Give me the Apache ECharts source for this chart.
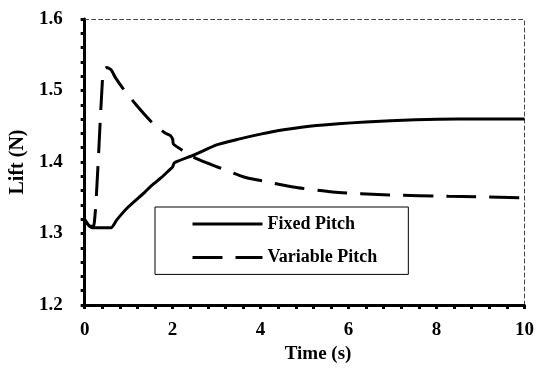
<!DOCTYPE html>
<html>
<head>
<meta charset="utf-8">
<script src="https://cdn.jsdelivr.net/npm/echarts@6/dist/echarts.min.js"></script>
<style>html,body{margin:0;padding:0;background:#fff;}#c{width:537px;height:369px;}</style>
</head>
<body>
<div id="c"></div>
<script>
var seriesNames = ['Fixed Pitch', 'Variable Pitch'];
var fixedTime = [0, 0.17, 0.6, 0.73, 0.99, 1.37, 1.52, 1.74, 1.93, 2.0, 2.04, 2.49, 3.0, 3.5, 4.0, 4.52, 5.27, 6.39, 7.52, 8.5, 10];
var fixedLift = [1.319, 1.308, 1.308, 1.319, 1.337, 1.358, 1.367, 1.378, 1.389, 1.393, 1.399, 1.410, 1.424, 1.432, 1.439, 1.445, 1.451, 1.456, 1.459, 1.460, 1.460];
var variableTime = [0, 0.12, 0.2, 0.42, 0.5, 0.6, 0.7, 0.87, 1.17, 1.52, 1.82, 1.95, 2.0, 2.02, 2.23, 2.53, 3.02, 3.62, 4.0, 4.74, 5.64, 6.92, 8.27, 10];
var variableLift = [1.32, 1.31, 1.31, 1.528, 1.532, 1.529, 1.518, 1.503, 1.48, 1.456, 1.441, 1.437, 1.432, 1.425, 1.416, 1.405, 1.393, 1.379, 1.374, 1.365, 1.358, 1.354, 1.352, 1.350];
var xTitle = 'Time (s)';
var yTitle = 'Lift (N)';

function pairs(xs, ys) { return xs.map(function (x, i) { return [x, ys[i]]; }); }

var font = '"Liberation Serif", "Times New Roman", serif';
var chart = echarts.init(document.getElementById('c'), null, { renderer: 'canvas' });
chart.setOption({
  animation: false,
  backgroundColor: '#fff',
  grid: { left: 82.5, right: 10, top: 19, bottom: 64, containLabel: false },
  legend: {
    orient: 'vertical',
    left: 155, top: 207,
    padding: [8, 31, 8, 36],
    itemGap: 15.4,
    itemWidth: 70, itemHeight: 16,
    borderColor: '#000', borderWidth: 1,
    backgroundColor: '#fff',
    itemStyle: { color: 'rgba(0,0,0,0)', borderWidth: 0, opacity: 0 },
    lineStyle: { width: 3, color: '#000' },
    textStyle: { fontFamily: font, fontWeight: 'bold', fontSize: 18, color: '#000', lineHeight: 16 },
    data: [
      { name: seriesNames[0], itemStyle: { opacity: 0 } },
      { name: seriesNames[1], itemStyle: { opacity: 0 } }
    ]
  },
  xAxis: [{
    type: 'value', min: 0, max: 10, interval: 2,
    name: xTitle, nameLocation: 'middle', nameGap: 37,
    nameTextStyle: { fontFamily: font, fontWeight: 'bold', fontSize: 19, color: '#000', padding: [0, 0, 0, 27] },
    axisLine: { show: true, onZero: false, lineStyle: { color: '#000', width: 3 } },
    axisTick: { show: true, inside: false, length: 4, lineStyle: { color: '#000', width: 3 } },
    minorTick: { show: true, splitNumber: 5, length: 4, lineStyle: { color: '#000', width: 3 } },
    splitLine: { show: false },
    axisLabel: { margin: 16, fontFamily: font, fontWeight: 'bold', fontSize: 19, color: '#000' }
  }, {
    type: 'value', min: 0, max: 10, position: 'top',
    axisLine: { show: true, onZero: false, lineStyle: { color: '#444', width: 1, type: [4, 3] } },
    axisTick: { show: false }, axisLabel: { show: false }, splitLine: { show: false }
  }],
  yAxis: [{
    type: 'value', min: 1.2, max: 1.6, interval: 0.1,
    name: yTitle, nameLocation: 'middle', nameGap: 52, nameRotate: 90,
    nameTextStyle: { fontFamily: font, fontWeight: 'bold', fontSize: 20, color: '#000' },
    axisLine: { show: true, onZero: false, lineStyle: { color: '#000', width: 3 } },
    axisTick: { show: true, inside: false, length: 4, lineStyle: { color: '#000', width: 3 } },
    minorTick: { show: true, splitNumber: 5, length: 4, lineStyle: { color: '#000', width: 3 } },
    splitLine: { show: false },
    axisLabel: { margin: 22, fontFamily: font, fontWeight: 'bold', fontSize: 19, color: '#000',
      formatter: function (v) { return v.toFixed(1); } }
  }, {
    type: 'value', min: 1.2, max: 1.6, position: 'right',
    axisLine: { show: true, onZero: false, lineStyle: { color: '#444', width: 1, type: [4, 3] } },
    axisTick: { show: false }, axisLabel: { show: false }, splitLine: { show: false }
  }],
  series: [{
    name: seriesNames[0], type: 'line', symbol: 'none', smooth: 0.2,
    xAxisIndex: 0, yAxisIndex: 0,
    lineStyle: { color: '#000', width: 3 }, itemStyle: { color: '#000' },
    data: pairs(fixedTime, fixedLift), z: 3
  }, {
    name: seriesNames[1], type: 'line', symbol: 'none', smooth: 0.2,
    xAxisIndex: 0, yAxisIndex: 0,
    lineStyle: { color: '#000', width: 3, type: [30, 13] }, itemStyle: { color: '#000' },
    data: pairs(variableTime, variableLift), z: 3
  }]
});
</script>
</body>
</html>
